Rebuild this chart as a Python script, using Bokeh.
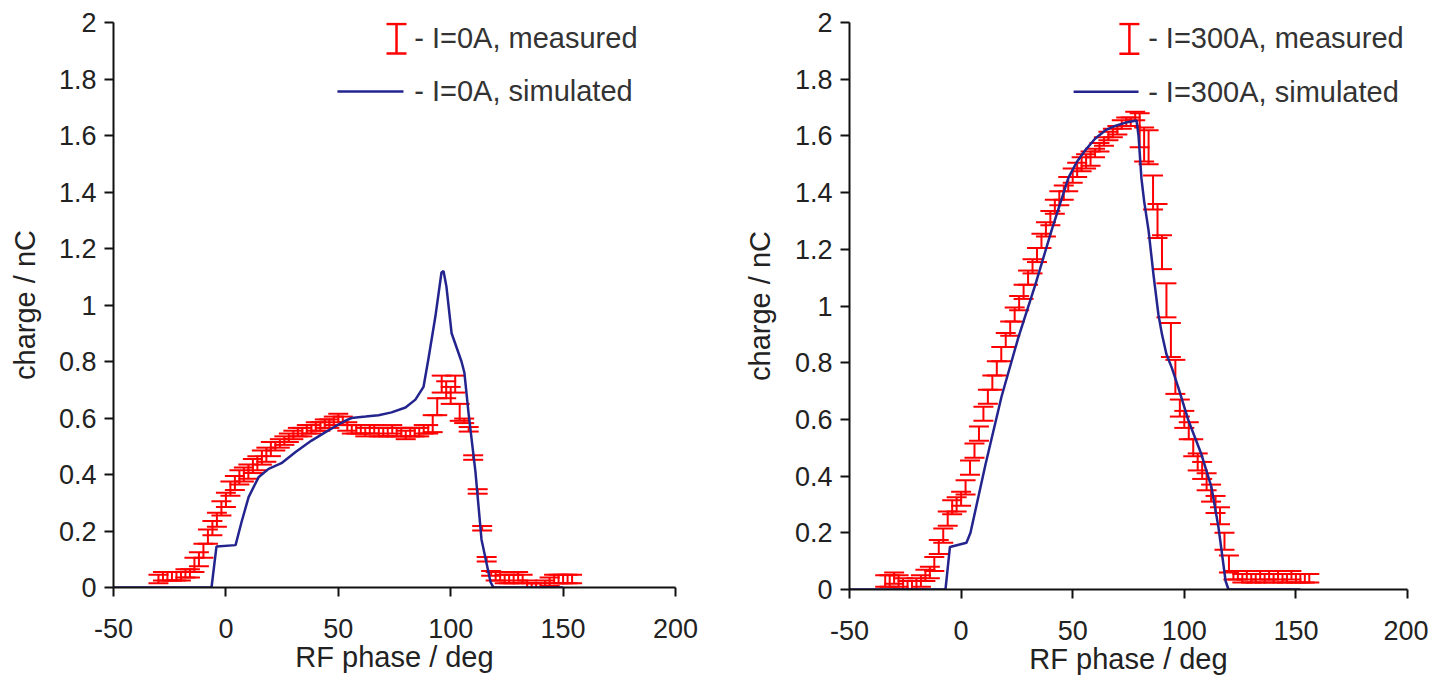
from bokeh.plotting import figure
from bokeh.layouts import row
from bokeh.models import ColumnDataSource, Whisker, TeeHead, Label, Arrow, FixedTicker
from bokeh.embed import file_html
from bokeh.resources import INLINE

# ---------------- data ----------------
x_ticks = [-50, 0, 50, 100, 150, 200]
x_tick_labels = ["-50", "0", "50", "100", "150", "200"]
y_ticks = [0, 0.2, 0.4, 0.6, 0.8, 1, 1.2, 1.4, 1.6, 1.8, 2]
y_tick_labels = ["0", "0.2", "0.4", "0.6", "0.8", "1", "1.2", "1.4", "1.6", "1.8", "2"]

# I = 0 A
meas0_x = [-30, -28, -26, -24, -22, -20, -18, -16, -14, -12, -10, -8, -6, -4, -2, 0, 2, 4, 6, 8,
           10, 12, 14, 16, 18, 20, 22, 24, 26, 28, 30, 32, 34, 36, 38, 40, 42, 44, 46, 48,
           50, 52, 54, 56, 58, 60, 62, 64, 66, 68, 70, 72, 74, 76, 78, 80, 82, 84, 86, 88,
           90, 92, 94, 96, 98, 100, 102, 104, 106, 108, 110, 112, 114, 116, 118, 120, 122, 124, 126, 128,
           130, 132, 134, 136, 138, 140, 142, 144, 146, 148, 150, 152, 154]
meas0_y = [0.03, 0.04, 0.04, 0.04, 0.04, 0.04, 0.05, 0.05, 0.08, 0.10, 0.13, 0.18, 0.21, 0.24, 0.28, 0.31, 0.35, 0.37, 0.39, 0.40,
           0.41, 0.43, 0.44, 0.46, 0.47, 0.49, 0.50, 0.51, 0.52, 0.53, 0.54, 0.55, 0.55, 0.56, 0.56, 0.57, 0.57, 0.58, 0.58, 0.59,
           0.60, 0.59, 0.57, 0.56, 0.56, 0.56, 0.55, 0.56, 0.56, 0.55, 0.55, 0.55, 0.56, 0.55, 0.55, 0.54, 0.55, 0.55, 0.55, 0.56,
           0.56, 0.58, 0.64, 0.72, 0.70, 0.68, 0.72, 0.62, 0.59, 0.56, 0.46, 0.34, 0.21, 0.10, 0.05, 0.04, 0.04, 0.03, 0.03, 0.03,
           0.04, 0.03, 0.01, 0.00, 0.00, 0.00, 0.01, 0.02, 0.03, 0.03, 0.03, 0.03, 0.03]
meas0_err = [0.015] * 8 + [0.025] * 18 + [0.015] * 35 + [0.03] * 7 + [0.008] * 7 + [0.015] * 18
sim0_x = [-50, -6.4, -4.2, 4.3, 6.9, 10.1, 14.5, 19.0, 24.7, 31.0, 38.1, 44.3, 50.1, 53.0, 55.9, 62.1, 67.9,
          73.7, 79.9, 84.3, 87.9, 90.1, 93.2, 95.9, 96.8, 98.1, 100.4, 104.8, 106.1, 107.9, 111.0, 113.7,
          117.7, 119.0, 150.0]
sim0_y = [0.0, 0.0, 0.145, 0.15, 0.23, 0.32, 0.39, 0.42, 0.44, 0.48, 0.52, 0.55, 0.577, 0.59, 0.60, 0.605, 0.61,
          0.62, 0.637, 0.665, 0.71, 0.81, 0.96, 1.115, 1.12, 1.065, 0.90, 0.80, 0.76, 0.62, 0.41, 0.17,
          0.02, 0.0, 0.0]

# I = 300 A
meas300_x = [-34, -32, -30, -28, -26, -24, -22, -20, -18, -16, -14, -12, -10, -8, -6, -4, -2, 0, 2, 4,
             6, 8, 10, 12, 14, 16, 18, 20, 22, 24, 26, 28, 30, 32, 34, 36, 38, 40, 42, 44,
             46, 48, 50, 52, 54, 56, 58, 60, 62, 64, 66, 68, 70, 72, 74, 76, 78, 80, 82, 84,
             86, 88, 90, 92, 94, 96, 98, 100, 102, 104, 106, 108, 110, 112, 114, 116, 118, 120, 122, 124,
             126, 128, 130, 132, 134, 136, 138, 140, 142, 144, 146, 148, 150, 152, 154, 156]
meas300_y = [0.03, 0.03, 0.04, 0.03, 0.02, 0.01, 0.01, 0.02, 0.03, 0.05, 0.06, 0.09, 0.15, 0.19, 0.25, 0.29, 0.30, 0.32, 0.36, 0.43,
             0.49, 0.55, 0.62, 0.68, 0.73, 0.78, 0.83, 0.88, 0.92, 0.97, 1.01, 1.05, 1.10, 1.14, 1.18, 1.23, 1.27, 1.31, 1.35, 1.38,
             1.40, 1.43, 1.46, 1.48, 1.50, 1.51, 1.52, 1.54, 1.56, 1.58, 1.60, 1.61, 1.62, 1.64, 1.65, 1.65, 1.67, 1.62, 1.57, 1.56,
             1.40, 1.30, 1.19, 1.02, 0.88, 0.75, 0.64, 0.60, 0.56, 0.50, 0.45, 0.42, 0.38, 0.34, 0.30, 0.26, 0.17, 0.09, 0.05, 0.05,
             0.04, 0.05, 0.04, 0.04, 0.05, 0.04, 0.05, 0.04, 0.05, 0.04, 0.04, 0.05, 0.04, 0.04, 0.04, 0.04]
meas300_err = [0.02] * 11 + [0.025] * 36 + [0.015] * 10 + [0.06] * 9 + [0.03] * 12 + [0.015] * 18
sim300_x = [-50, -7.0, -5.0, 2.4, 4.2, 10.9, 18.1, 25.7, 33.3, 40.5, 48.1, 52.0, 55.7, 60.0, 64.7, 69.0,
            73.7, 78.6, 79.5, 80.8, 82.0, 84.0, 86.2, 88.4, 90.0, 92.0, 94.5, 97.4, 101.9, 107.7, 112.2,
            115.3, 118.5, 119.8, 152.0]
sim300_y = [0.0, 0.0, 0.15, 0.165, 0.20, 0.44, 0.68, 0.89, 1.076, 1.266, 1.453, 1.51, 1.55, 1.59, 1.62, 1.635,
            1.647, 1.654, 1.60, 1.45, 1.37, 1.266, 1.11, 0.97, 0.90, 0.83, 0.78, 0.71, 0.595, 0.476, 0.36,
            0.22, 0.03, 0.0, 0.0]

labels0 = ["- I=0A, measured", "- I=0A, simulated"]
labels300 = ["- I=300A, measured", "- I=300A, simulated"]

# ---------------- style ----------------
RED = "#ff0000"
BLUE = "#24248f"
TXT = "#222222"
FONT = "Liberation Sans"


def panel(mx, my, merr, sx, sy, labels, frame, borders, ylab_standoff, leg):
    fw, fh = frame
    bl, br, bt, bb = borders
    p = figure(frame_width=fw, frame_height=fh, x_range=(-50, 200), y_range=(0, 2),
               output_backend="svg", toolbar_location=None,
               min_border_left=bl, min_border_right=br, min_border_top=bt, min_border_bottom=bb)
    p.outline_line_color = None
    p.grid.visible = False
    p.background_fill_color = "white"
    p.border_fill_color = "white"

    p.xaxis.ticker = FixedTicker(ticks=x_ticks)
    p.xaxis.major_label_overrides = dict(zip(x_ticks, x_tick_labels))
    p.yaxis.ticker = FixedTicker(ticks=y_ticks)
    p.yaxis.major_label_overrides = dict(zip(y_ticks, y_tick_labels))
    p.xaxis.axis_label = "RF phase / deg"
    p.yaxis.axis_label = "charge / nC"
    for ax in (p.xaxis[0], p.yaxis[0]):
        ax.axis_line_width = 2
        ax.axis_line_color = "#111111"
        ax.major_tick_line_width = 2
        ax.major_tick_line_color = "#111111"
        ax.major_tick_out = 9
        ax.major_tick_in = 0
        ax.minor_tick_out = 0
        ax.minor_tick_in = 0
        ax.major_label_text_font = FONT
        ax.major_label_text_font_size = "27px"
        ax.major_label_text_color = TXT
        ax.axis_label_text_font = FONT
        ax.axis_label_text_font_size = "29px"
        ax.axis_label_text_font_style = "normal"
        ax.axis_label_text_color = TXT
    p.xaxis.major_label_standoff = 22
    p.xaxis.axis_label_standoff = 0
    p.yaxis.major_label_standoff = 8
    p.yaxis.axis_label_standoff = ylab_standoff

    lower = [y - e for y, e in zip(my, merr)]
    upper = [y + e for y, e in zip(my, merr)]
    src = ColumnDataSource(dict(x=mx, lower=lower, upper=upper))
    wh = Whisker(source=src, base="x", lower="lower", upper="upper", dimension="height",
                 line_color=RED, line_width=2,
                 upper_head=TeeHead(size=20, line_color=RED, line_width=2),
                 lower_head=TeeHead(size=20, line_color=RED, line_width=2))
    p.add_layout(wh)

    p.line(sx, sy, line_color=BLUE, line_width=2.5)

    # legend (decoration)
    ix, tx, lx0, lx1 = leg
    lsrc = ColumnDataSource(dict(x=[ix], lower=[1.89], upper=[1.995]))
    p.add_layout(Whisker(source=lsrc, base="x", lower="lower", upper="upper", dimension="height",
                         line_color=RED, line_width=2.5, level="overlay",
                         upper_head=TeeHead(size=20, line_color=RED, line_width=2.5),
                         lower_head=TeeHead(size=20, line_color=RED, line_width=2.5)))
    p.add_layout(Arrow(start=None, end=None, x_start=lx0, y_start=1.756, x_end=lx1, y_end=1.756,
                       line_color=BLUE, line_width=2.5))
    for yy, t in zip([1.946, 1.756], labels):
        p.add_layout(Label(x=tx, y=yy, text=t, text_baseline="middle", text_align="left",
                           text_font=FONT, text_font_size="29px", text_color="#333333"))
    return p


p1 = panel(meas0_x, meas0_y, meas0_err, sim0_x, sim0_y, labels0, (562, 565), (113, 43, 20, 76), 15,
           (75.9, 83.8, 49.6, 79.0))
p2 = panel(meas300_x, meas300_y, meas300_err, sim300_x, sim300_y, labels300, (558, 567), (131, 21, 22, 72), 16,
           (75.4, 83.8, 50.4, 79.5))

layout = row(p1, p2)
open("out.html", "w").write(file_html(layout, INLINE))
